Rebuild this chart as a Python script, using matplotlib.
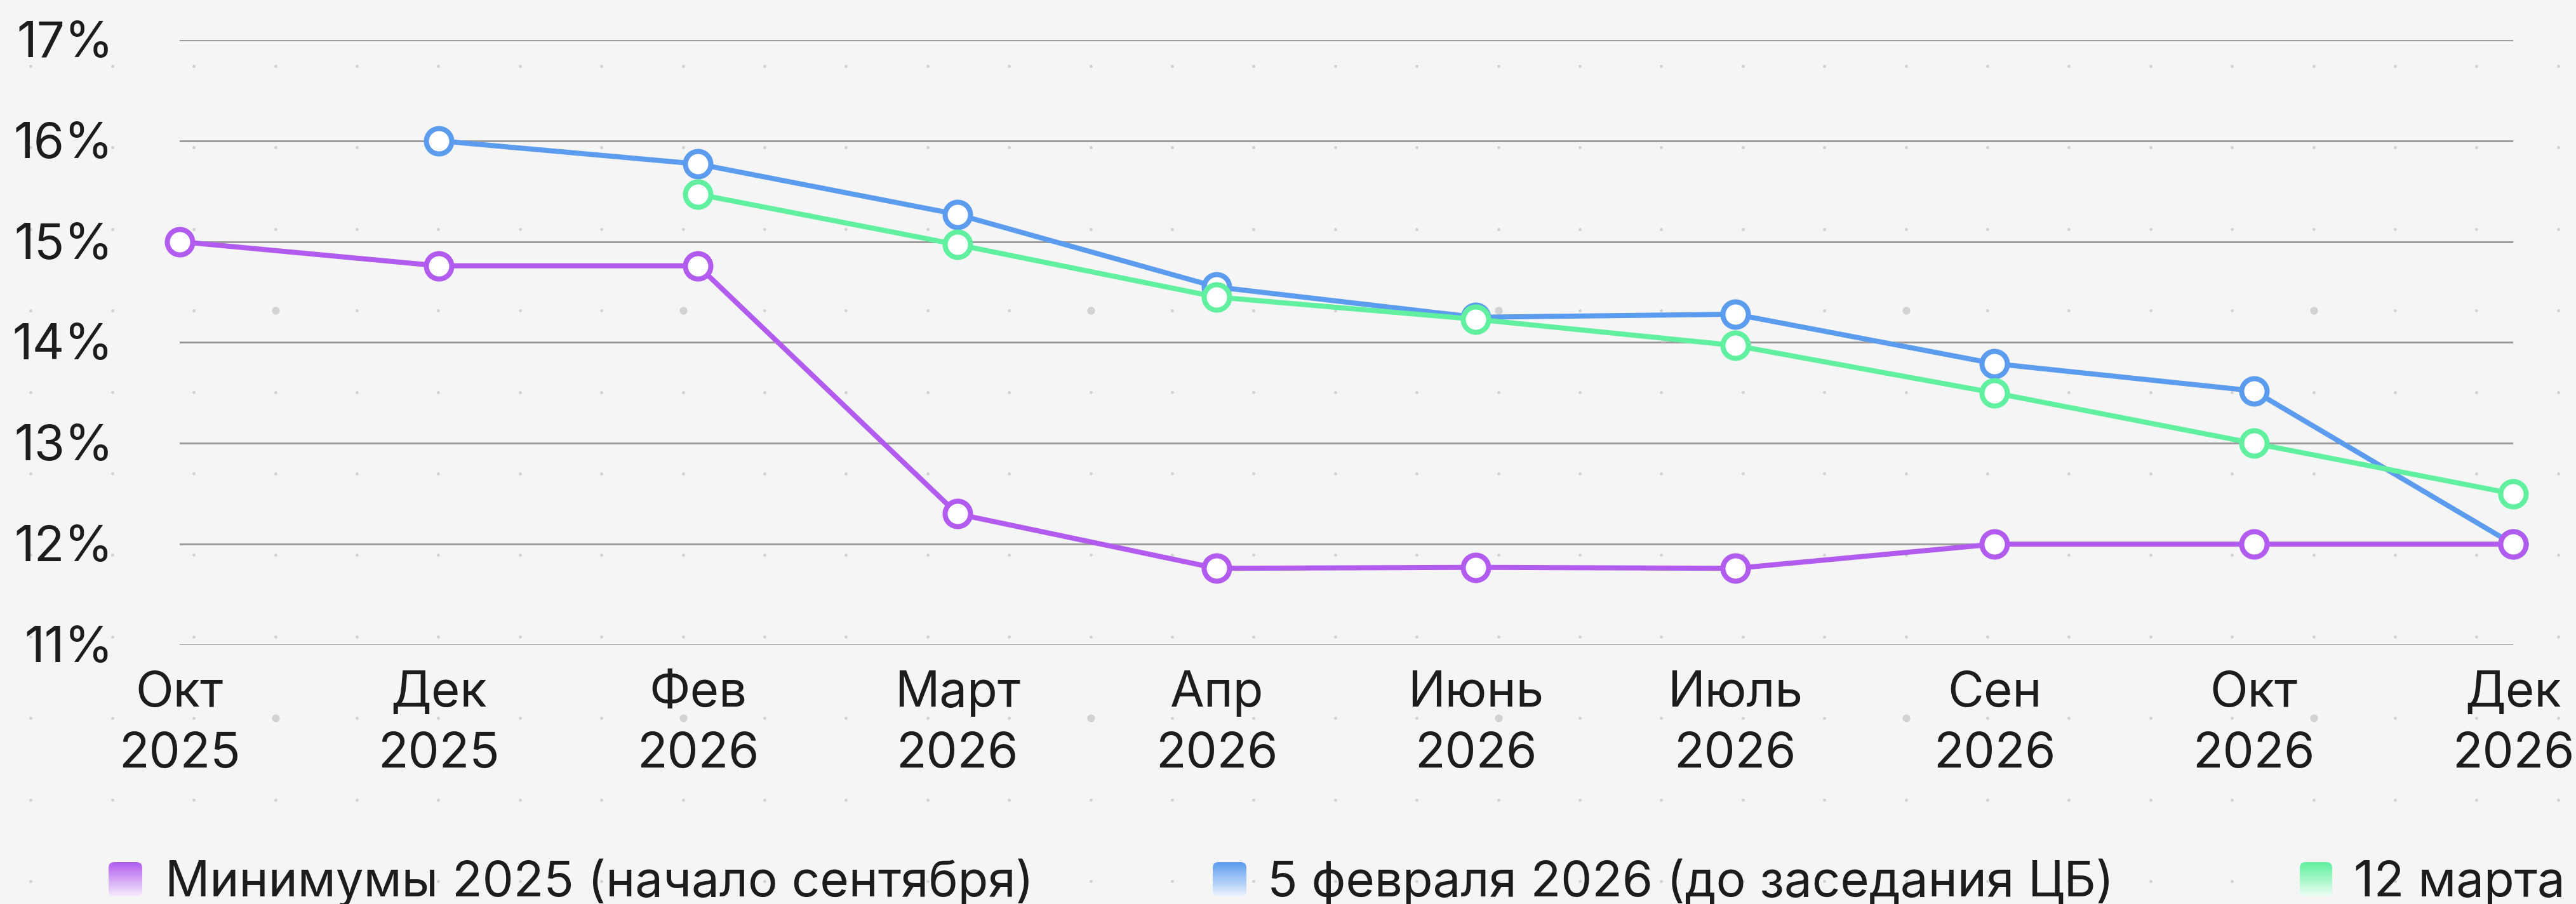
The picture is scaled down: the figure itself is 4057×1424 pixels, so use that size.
import numpy as np
import matplotlib
matplotlib.use("Agg")
import matplotlib.pyplot as plt
from matplotlib import transforms
from matplotlib.colors import to_rgb
from matplotlib.patches import FancyBboxPatch

# --- data ---
months = ['Окт', 'Дек', 'Фев', 'Март', 'Апр', 'Июнь', 'Июль', 'Сен', 'Окт', 'Дек']
years = ['2025', '2025', '2026', '2026', '2026', '2026', '2026', '2026', '2026', '2026']

min_2025 = [15.0, 14.76, 14.76, 12.3, 11.76, 11.77, 11.76, 12.0, 12.0, 12.0]
feb_2026 = [np.nan, 16.0, 15.77, 15.27, 14.55, 14.25, 14.28, 13.79, 13.52, 12.0]
mar_12 = [np.nan, np.nan, 15.47, 14.97, 14.45, 14.23, 13.97, 13.5, 13.0, 12.5]

series_names = ['Минимумы 2025 (начало сентября)',
                '5 февраля 2026 (до заседания ЦБ)',
                '12 марта']
yticks = [11, 12, 13, 14, 15, 16, 17]

PURPLE = '#b15cef'
BLUE = '#5c9cef'
GREEN = '#60f09f'
TEXT = '#1c1c1c'
BG = '#f5f5f5'

W, H = 4057, 1424
DPI = 72
FS = 78

plt.rcParams['font.family'] = ['Inter', 'DejaVu Sans']

fig = plt.figure(figsize=(W / DPI, H / DPI), dpi=DPI, facecolor=BG)

# background dot pattern
bg = fig.add_axes([0, 0, 1, 1], zorder=-1)
bg.set_xlim(0, W)
bg.set_ylim(H, 0)
bg.axis('off')
step = 128.4
xs = 48.5 + step * np.arange(32)
ys = 104 + step * np.arange(11)
gx, gy = np.meshgrid(np.arange(32), np.arange(11))
big = (gx % 5 == 3) & (gy % 5 == 3)
bg.scatter(xs[gx[~big]], ys[gy[~big]], s=24, color='#d2d2d2', linewidths=0)
bg.scatter(xs[gx[big]], ys[gy[big]], s=150, color='#d2d2d2', linewidths=0)

# main chart
left, right, top, bottom = 282.6, 3958, 62.9, 1016
ax = fig.add_axes([left / W, 1 - bottom / H, (right - left) / W, (bottom - top) / H])
ax.patch.set_alpha(0)
for s in ax.spines.values():
    s.set_visible(False)
x = np.arange(len(months))
ax.set_xlim(0, len(months) - 1)
ax.set_ylim(11, 17)
ax.set_yticks(yticks)
ax.set_xticks([])
ax.tick_params(axis='y', length=0, labelleft=False)
ax.grid(axis='y', color='#9d9d9d', lw=3)

for vals, col, z in [(feb_2026, BLUE, 3), (mar_12, GREEN, 4), (min_2025, PURPLE, 5)]:
    ax.plot(x, vals, color=col, lw=8, marker='o', ms=40, mfc='white', mec=col,
            mew=8, clip_on=False, zorder=z)

# y labels
ytr = transforms.offset_copy(transforms.blended_transform_factory(ax.transAxes, ax.transData),
                             fig=fig, x=-104, y=-27, units='dots')
for v in yticks:
    ax.text(0, v, f'{v}%', transform=ytr, ha='right', va='baseline',
            fontsize=FS, color=TEXT)

# x labels (two lines)
xtr = transforms.blended_transform_factory(ax.transData, fig.transFigure)
for i in x:
    ax.text(i, 1 - 1113 / H, months[i], transform=xtr, ha='center', va='baseline',
            fontsize=FS, color=TEXT)
    ax.text(i, 1 - 1209 / H, years[i], transform=xtr, ha='center', va='baseline',
            fontsize=FS, color=TEXT)

# legend with gradient swatches
lg = fig.add_axes([0, 0, 1, 1], zorder=2)
lg.patch.set_alpha(0)
lg.axis('off')
items = [(171, 53, 260, PURPLE), (1910, 53, 1996, BLUE), (3622, 51, 3707, GREEN)]
for (px, pw, tx, col), name in zip(items, series_names):
    py, ph = 1358, 54
    c = np.array(to_rgb(col))
    t = np.linspace(0, 1, 64)[:, None]
    grad = (1 - t) * c + t * (0.12 * c + 0.88 * np.ones(3))
    img = lg.imshow(grad[:, None, :], extent=[px, px + pw, py + ph, py],
                    aspect='auto', interpolation='bilinear')
    clip = FancyBboxPatch((px, py), pw, ph, boxstyle='round,pad=0,rounding_size=9',
                          transform=lg.transData, facecolor='none', edgecolor='none')
    lg.add_patch(clip)
    img.set_clip_path(clip)
    lg.text(tx, 1412, name, ha='left', va='baseline', fontsize=FS, color=TEXT)
lg.set_xlim(0, W)
lg.set_ylim(H, 0)

fig.savefig('out.png', dpi=DPI, facecolor=BG)
